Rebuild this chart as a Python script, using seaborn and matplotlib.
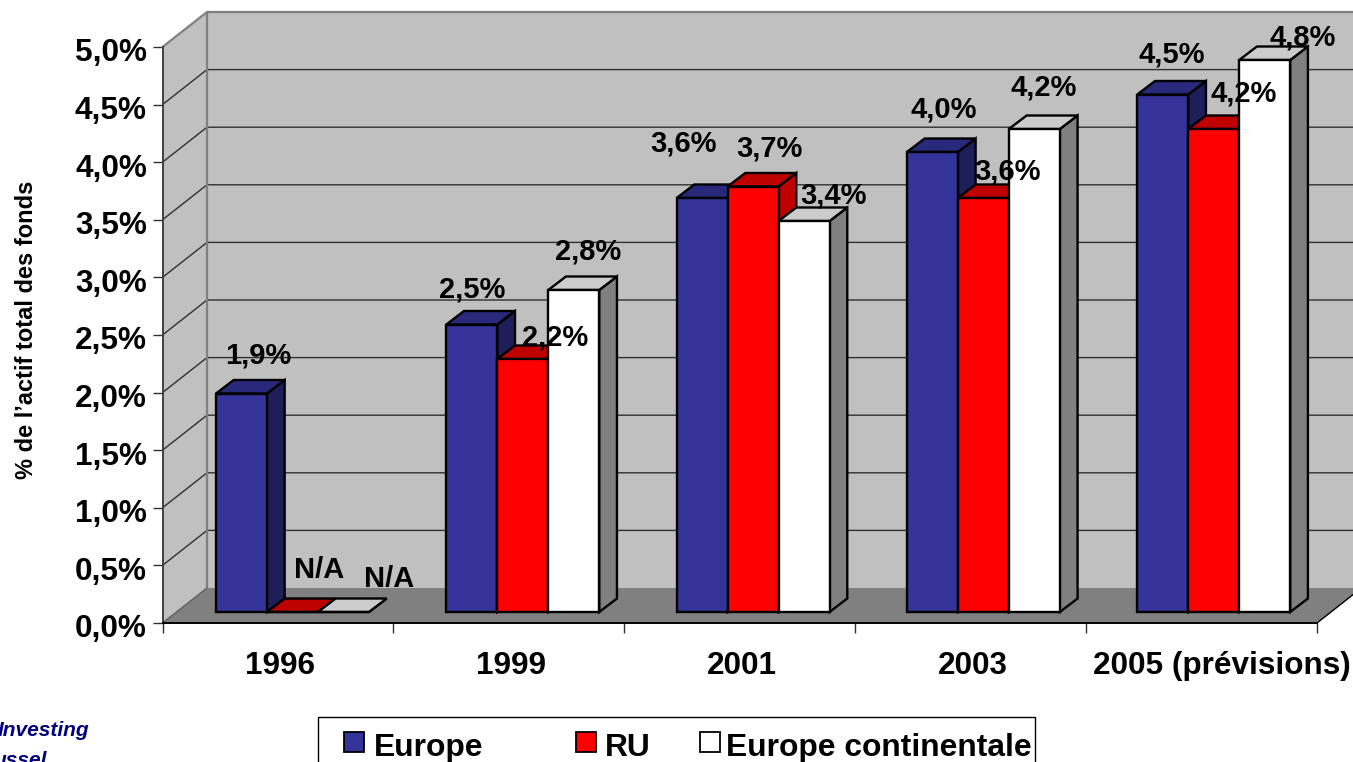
# %%
import numpy as np
import pandas as pd

import matplotlib
matplotlib.use("Agg")
import matplotlib.pyplot as plt
from matplotlib.patches import Polygon, Rectangle
from matplotlib.transforms import Affine2D
import seaborn as sns

# %%
years = ['1996', '1999', '2001', '2003', '2005 (prévisions)']
series_names = ['Europe', 'RU', 'Europe continentale']
europe = [1.9, 2.5, 3.6, 4.0, 4.5]
ru = [0.0, 2.2, 3.7, 3.6, 4.2]          # 1996 is N/A, drawn flat
continentale = [0.0, 2.8, 3.4, 4.2, 4.8]  # 1996 is N/A, drawn flat
ytick_values = [0.0, 0.5, 1.0, 1.5, 2.0, 2.5, 3.0, 3.5, 4.0, 4.5, 5.0]

front_colors = ['#333399', '#FF0000', '#FFFFFF']
top_colors = ['#29297C', '#BF0000', '#CCCCCC']
side_colors = ['#1E1E5A', '#BF0000', '#808080']

# label shifts from the top of each bar, in pixels
label_shift = [
    [(17, 38), (0, 35), (-19, 54), (11, 42), (9, 40)],
    [(27, 42), (32, 21), (16, 38), (24, 26), (30, 35)],
    [(46, 33), (14, 38), (29, 25), (9, 41), (38, 23)],
]

W, H = 1353, 762


def px_axes(left, right, top, bottom):
    return [left / W, 1 - bottom / H, (right - left) / W, (bottom - top) / H]


df = pd.DataFrame({
    'year': years * 3,
    'serie': np.repeat(series_names, len(years)),
    'value': europe + ru + continentale,
})

# %%
sns.set_theme(style='white')
plt.rcParams['font.family'] = ['Liberation Sans', 'DejaVu Sans']
plt.rcParams['font.weight'] = 'bold'
plt.rcParams['text.color'] = 'black'
plt.rcParams['xtick.labelcolor'] = 'black'
plt.rcParams['ytick.labelcolor'] = 'black'

fig = plt.figure(figsize=(W / 100, H / 100), dpi=100)

# front plane of the box: ticks and labels live here
ax = fig.add_axes(px_axes(162.5, 1317, 47, 623))
ax.set_xlim(0, 5)
ax.set_ylim(0, 5)
ax.patch.set_visible(False)

# depth of the box in data units
wall_dx = 44.5 / 231
wall_dy = 35 / 115.2

ax.add_patch(Polygon([(0, 0), (wall_dx, wall_dy), (wall_dx, 5 + wall_dy), (0, 5)],
                     fc='#C0C0C0', ec='none', clip_on=False, zorder=0))
ax.add_patch(Rectangle((wall_dx, wall_dy), 5, 5, fc='#C0C0C0', ec='none',
                       clip_on=False, zorder=0))
ax.add_patch(Polygon([(0, 0), (wall_dx, wall_dy), (5 + wall_dx, wall_dy), (5, 0)],
                     fc='#808080', ec='none', clip_on=False, zorder=1))

for v in ytick_values[1:]:
    col = '#808080' if v == 5.0 else '#303030'
    lw = 1.6 if v == 5.0 else 1.0
    ax.plot([0, wall_dx, 5 + wall_dx], [v, v + wall_dy, v + wall_dy], color=col,
            lw=lw, clip_on=False, zorder=1)
ax.plot([wall_dx, wall_dx], [wall_dy, 5 + wall_dy], color='#808080', lw=1.6,
        clip_on=False, zorder=1)
ax.plot([0, wall_dx], [0, wall_dy], color='#606060', lw=1.0, clip_on=False, zorder=2)
ax.plot([5, 5 + wall_dx], [0, wall_dy], color='black', lw=1.0, clip_on=False, zorder=2)

for side in ['top', 'right']:
    ax.spines[side].set_visible(False)
ax.spines['left'].set_color('#404040')
ax.spines['left'].set_linewidth(1.4)
ax.spines['bottom'].set_color('black')
ax.spines['bottom'].set_linewidth(1.4)
ax.spines['left'].set_zorder(2)
ax.spines['bottom'].set_zorder(2)

ax.set_yticks(ytick_values)
ax.set_yticklabels([f'{v:.1f}%'.replace('.', ',') for v in ytick_values], fontsize=22.7)
ax.set_xticks(range(6))
ax.set_xticklabels([])
ax.set_xticks(np.arange(5) + 0.5, years, minor=True, fontsize=22.7)
ax.tick_params(axis='y', which='major', left=True, length=7, width=1, color='#303030', pad=4.2)
ax.tick_params(axis='x', which='major', bottom=True, length=7, width=1, color='#303030')
ax.tick_params(axis='x', which='minor', bottom=False, pad=16.5)

for i, lab in enumerate(ax.get_xticklabels(minor=True)):
    shift = 20 if i == len(years) - 1 else 2
    lab.set_transform(lab.get_transform() + Affine2D().translate(shift, 0))
for lab in ax.get_yticklabels():
    lab.set_transform(lab.get_transform() + Affine2D().translate(0, -3))

fig.text(27 / W, 1 - 330 / H, '% de l’actif total des fonds', rotation=90, fontsize=17,
         ha='center', va='center')

# %%
# bars sit in a plane part way into the box
bar_ax = fig.add_axes(px_axes(177.3, 1328.9, 37, 612))
bar_ax.patch.set_visible(False)
sns.barplot(data=df, x='year', y='value', hue='serie', hue_order=series_names,
            palette=front_colors, width=0.664, gap=0, saturation=1, legend=False,
            edgecolor='black', linewidth=1.7, ax=bar_ax)
bar_ax.set_xlim(-0.5, 4.5)
bar_ax.set_ylim(0, 5)
bar_ax.axis('off')

bar_dx = 17.7 / 230.3
bar_dy = 13.5 / 115

for s, container in enumerate(bar_ax.containers):
    for c, bar in enumerate(container):
        z = 3 + s
        bar.set_zorder(z + 0.5)
        bar.set_clip_on(False)
        x0, x1 = bar.get_x(), bar.get_x() + bar.get_width()
        top = bar.get_height()
        bar_ax.add_patch(Polygon([(x1, 0), (x1 + bar_dx, bar_dy), (x1 + bar_dx, top + bar_dy), (x1, top)],
                                 fc=side_colors[s], ec='black', lw=1.7, clip_on=False, zorder=z))
        bar_ax.add_patch(Polygon([(x0, top), (x0 + bar_dx, top + bar_dy), (x1 + bar_dx, top + bar_dy), (x1, top)],
                                 fc=top_colors[s], ec='black', lw=1.7, clip_on=False, zorder=z))
        text = 'N/A' if top == 0 else f'{top:.1f}%'.replace('.', ',')
        bar_ax.annotate(text, ((x0 + x1) / 2, top), xytext=label_shift[s][c],
                        textcoords='offset pixels', ha='center', va='center',
                        fontsize=21, fontweight='bold', color='black', zorder=10,
                        annotation_clip=False)

# %%
# legend box runs off the bottom of the picture, so it is built by hand
fig.add_artist(Rectangle((318 / W, 1 - 790 / H), 717 / W, 73 / H, transform=fig.transFigure,
                         fc='white', ec='black', lw=1.0))
swatch_x = [344, 576, 700]
text_x = [374, 605, 726]
for name, col, sx, tx in zip(series_names, front_colors, swatch_x, text_x):
    fig.add_artist(Rectangle((sx / W, 1 - 752 / H), 20 / W, 20 / H, transform=fig.transFigure,
                             fc=col, ec='black', lw=1.3))
    fig.text(tx / W, 1 - 756 / H, name, fontsize=22.9, ha='left', va='baseline')

fig.text(89 / W, 1 - 736 / H, 'Investing', fontsize=15, style='italic', ha='right',
         va='baseline', color='#000080')
fig.text(47 / W, 1 - 766 / H, 'ussel', fontsize=15, style='italic', ha='right',
         va='baseline', color='#000080')

plt.savefig('out.png', dpi=100)
